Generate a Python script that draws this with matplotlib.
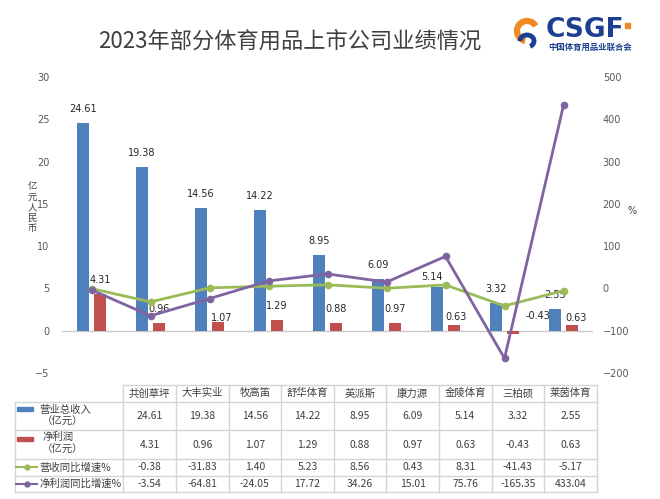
import numpy as np
import matplotlib.pyplot as plt
from matplotlib.patches import Rectangle, Arc

companies = ['共创草坪', '大丰实业', '牧高笛', '舒华体育', '英派斯', '康力源', '金陵体育', '三柏硕', '莱茵体育']
revenue = [24.61, 19.38, 14.56, 14.22, 8.95, 6.09, 5.14, 3.32, 2.55]
profit = [4.31, 0.96, 1.07, 1.29, 0.88, 0.97, 0.63, -0.43, 0.63]
revenue_growth = [-0.38, -31.83, 1.40, 5.23, 8.56, 0.43, 8.31, -41.43, -5.17]
profit_growth = [-3.54, -64.81, -24.05, 17.72, 34.26, 15.01, 75.76, -165.35, 433.04]

BLUE = '#4F81BD'
RED = '#C0504D'
GREEN = '#9BBB59'
PURPLE = '#8064A2'
TXT = '#404040'
CJK = ['Noto Sans CJK SC', 'DejaVu Sans']

W, H = 660, 499
PT = 0.72  # points per pixel at dpi 100

fig = plt.figure(figsize=(W / 100, H / 100), dpi=100)

# ---- main chart ----
ax = fig.add_axes([62 / W, 1 - 373 / H, 531 / W, 296 / H])
x = np.arange(len(companies))
bw, off = 0.215, 0.142
ax.bar(x - off, revenue, bw, color=BLUE, zorder=2)
ax.bar(x + off, profit, bw, color=RED, zorder=2)
ax.axhline(0, color='#C8C8C8', lw=1, zorder=1)
ax.set_xlim(-0.5, len(companies) - 0.5)
ax.set_ylim(-5, 30)
ax.set_yticks(range(-5, 31, 5))
ax.set_xticks([])
for s in ax.spines.values():
    s.set_visible(False)
ax.tick_params(axis='y', length=0, labelsize=7, labelcolor='#595959', pad=9)

# data labels (pixel nudges for the hand-moved ones)
blue_nudge = {6: (-5, 10)}
red_nudge = {2: (4, 4), 6: (2, 8), 7: (25, 15), 8: (4, 7)}
for i, v in enumerate(revenue):
    dx, dy = blue_nudge.get(i, (0, 14))
    ax.annotate(f'{v:.2f}', (x[i] - off, v), xytext=(dx * PT, dy * PT), textcoords='offset points',
                ha='center', va='center', fontsize=7, color='#262626', zorder=3)
for i, v in enumerate(profit):
    dx, dy = red_nudge.get(i, (0, 14))
    ax.annotate(f'{v:.2f}', (x[i] + off, max(v, 0)), xytext=(dx * PT, dy * PT), textcoords='offset points',
                ha='center', va='center', fontsize=7, color='#262626', zorder=3)

ax2 = ax.twinx()
ax2.set_ylim(-200, 500)
ax2.set_yticks(range(-200, 501, 100))
for s in ax2.spines.values():
    s.set_visible(False)
ax2.tick_params(axis='y', length=0, labelsize=7, labelcolor='#595959', pad=7)
ax2.plot(x, revenue_growth, color=GREEN, lw=2, marker='o', ms=4.5)
ax2.plot(x, profit_growth, color=PURPLE, lw=2, marker='o', ms=4.5)

# ---- overlay in pixel coordinates: axis titles, title, logo, table ----
tab = fig.add_axes([0, 0, 1, 1])
tab.set_xlim(0, W)
tab.set_ylim(H, 0)
tab.axis('off')

for j, ch in enumerate('亿元人民币'):
    tab.text(32, 187 + 10.5 * j, ch, ha='center', va='center', fontsize=6.8, color=TXT, family=CJK)
tab.text(632, 211, '%', ha='center', va='center', fontsize=7, color=TXT)

tab.text(290, 41, '2023年部分体育用品上市公司业绩情况', ha='center', va='center',
         fontsize=16, color=TXT, family=CJK)

# logo (rough)
ORANGE = '#F08A24'
NAVY = '#1D3F8F'
tab.add_patch(Arc((527, 31), 20, 20, theta1=100, theta2=330, lw=4.5, color=ORANGE))
tab.add_patch(Arc((527, 41), 14, 12, theta1=180, theta2=420, lw=3.5, color=NAVY))
tab.text(585, 30, 'CSGF', ha='center', va='center', fontsize=19, fontweight='bold', color=NAVY)
tab.add_patch(Rectangle((625, 23), 5, 5, color=ORANGE))
tab.text(590, 47, '中国体育用品业联合会', ha='center', va='center', fontsize=6,
         fontweight='bold', color=NAVY, family=CJK)

# table
grid_c = '#D4D4D4'
c0, c1, cw = 15, 123.3, 52.6
right = c1 + cw * len(companies)
ys = [385, 401.7, 430, 459, 475.7, 491.7]
tab.plot([c1, right], [ys[0], ys[0]], color=grid_c, lw=1)
for yy in ys[1:]:
    tab.plot([c0, right], [yy, yy], color=grid_c, lw=1)
tab.plot([c0, c0], [ys[1], ys[-1]], color=grid_c, lw=1)
for k in range(len(companies) + 1):
    tab.plot([c1 + k * cw] * 2, [ys[0], ys[-1]], color=grid_c, lw=1)

rows = [revenue, profit, revenue_growth, profit_growth]
for k, name in enumerate(companies):
    cx = c1 + (k + 0.5) * cw
    tab.text(cx, (ys[0] + ys[1]) / 2, name, ha='center', va='center', fontsize=7.5,
             color=TXT, family=CJK)
    for r, vals in enumerate(rows):
        tab.text(cx, (ys[r + 1] + ys[r + 2]) / 2, f'{vals[k]:.2f}', ha='center', va='center',
                 fontsize=7.5, color=TXT, family=CJK)

# row headers with legend keys
tab.add_patch(Rectangle((17, 407), 16, 4, color=BLUE))
tab.text(65.5, 410, '营业总收入', ha='center', va='center', fontsize=7.5, color=TXT, family=CJK)
tab.text(62.5, 422, '（亿元）', ha='center', va='center', fontsize=7.5, color=TXT, family=CJK)
tab.add_patch(Rectangle((17, 436.5), 16, 4, color=RED))
tab.text(58, 437, '净利润', ha='center', va='center', fontsize=7.5, color=TXT, family=CJK)
tab.text(62.5, 450, '（亿元）', ha='center', va='center', fontsize=7.5, color=TXT, family=CJK)
tab.plot([16, 37], [467.4, 467.4], color=GREEN, lw=1.5)
tab.plot([26.5], [467.4], marker='o', ms=3.5, color=GREEN)
tab.text(39, 467.4, '营收同比增速%', ha='left', va='center', fontsize=7.5, color=TXT, family=CJK)
tab.plot([16, 37], [483.7, 483.7], color=PURPLE, lw=1.5)
tab.plot([26.5], [483.7], marker='o', ms=3.5, color=PURPLE)
tab.text(39, 483.7, '净利润同比增速%', ha='left', va='center', fontsize=7.5, color=TXT, family=CJK)

fig.savefig('out.png', dpi=100)
